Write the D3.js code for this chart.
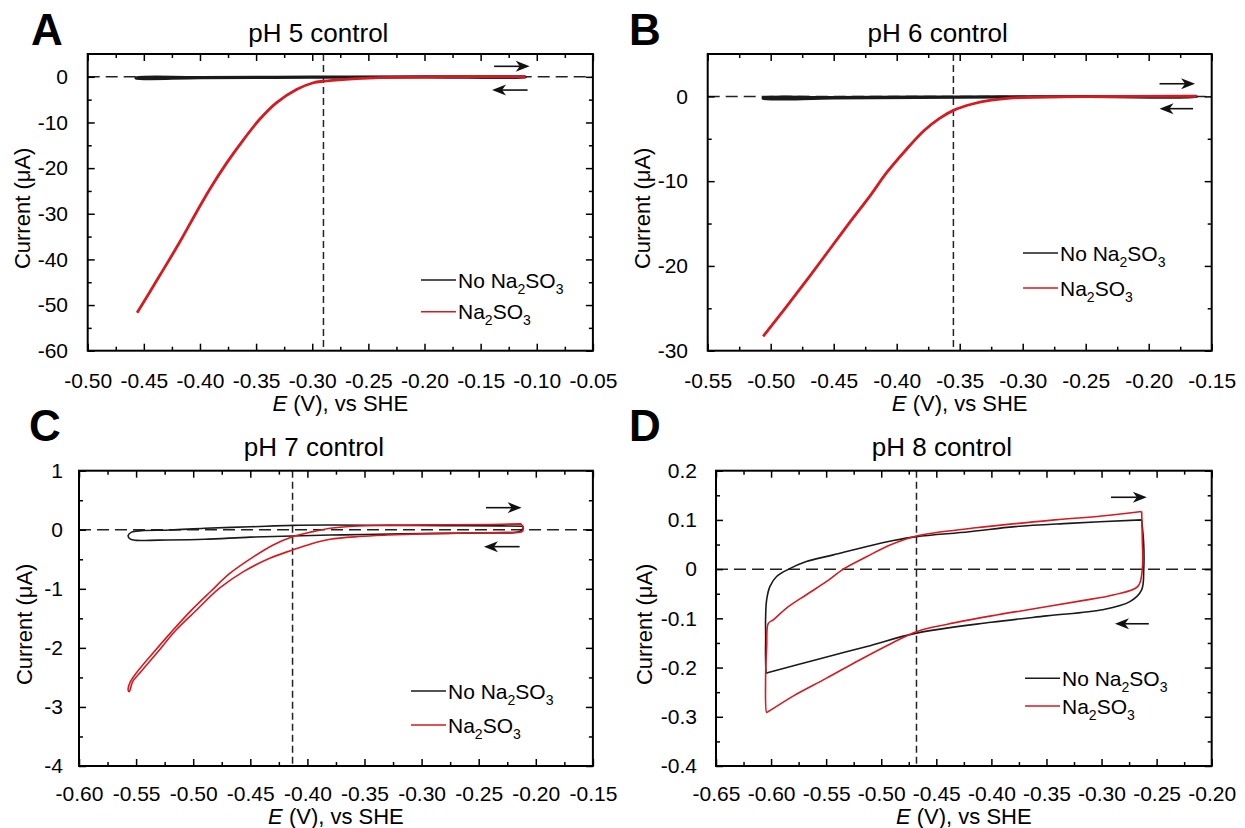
<!DOCTYPE html>
<html>
<head>
<meta charset="utf-8">
<script src="https://cdn.jsdelivr.net/npm/d3@7"></script>
<style>
  body { margin: 0; background: #fff; }
  text { font-family: "Liberation Sans", Arial, Helvetica, sans-serif; fill: #000; }
</style>
</head>
<body>
<svg id="fig" width="1245" height="828"></svg>
<script>
// traces: [E (V vs SHE), current (uA)]
var pH5Control = [[-0.11, 0.05], [-0.20, 0.02], [-0.30, -0.03], [-0.40, -0.12], [-0.457, -0.2],
                  [-0.457, -0.3], [-0.40, -0.25], [-0.30, -0.12], [-0.20, -0.05], [-0.11, -0.02], [-0.11, 0.05]];
var pH5Sulfite = [[-0.11, 0.0], [-0.15, -0.02], [-0.20, -0.05], [-0.23, -0.13], [-0.25, -0.28], [-0.27, -0.55],
                  [-0.29, -0.96], [-0.299, -1.3], [-0.314, -2.78], [-0.332, -5.7], [-0.347, -9.36], [-0.361, -13.7],
                  [-0.376, -18.8], [-0.391, -24.5], [-0.403, -29.6], [-0.418, -36.2], [-0.436, -43.6], [-0.456, -51.7]];

var pH6Control = [[-0.162, 0.03], [-0.25, 0.0], [-0.35, -0.05], [-0.45, -0.12], [-0.506, -0.17],
                  [-0.506, -0.25], [-0.45, -0.2], [-0.35, -0.1], [-0.25, -0.04], [-0.162, -0.02], [-0.162, 0.03]];
var pH6Sulfite = [[-0.162, 0.0], [-0.20, -0.01], [-0.26, -0.03], [-0.29, -0.08], [-0.31, -0.2], [-0.325, -0.45],
                  [-0.34, -0.9], [-0.355, -1.65], [-0.366, -2.6], [-0.378, -4.0], [-0.392, -6.2], [-0.408, -9.0],
                  [-0.421, -11.7], [-0.437, -14.8], [-0.453, -18.0], [-0.469, -21.2], [-0.487, -24.7], [-0.506, -28.3]];

var pH7Control = [[-0.211, 0.06], [-0.212, 0.0], [-0.216, -0.04], [-0.25, -0.055], [-0.30, -0.065], [-0.35, -0.08],
                  [-0.38, -0.09], [-0.413, -0.105], [-0.45, -0.125], [-0.49, -0.16], [-0.53, -0.175], [-0.55, -0.18],
                  [-0.555, -0.16], [-0.557, -0.1], [-0.554, -0.04], [-0.545, -0.015], [-0.52, -0.005], [-0.49, 0.025],
                  [-0.45, 0.05], [-0.413, 0.075], [-0.38, 0.08], [-0.33, 0.075], [-0.28, 0.07], [-0.23, 0.065], [-0.211, 0.06]];
var pH7Sulfite = [[-0.213, 0.1], [-0.211, 0.03], [-0.212, -0.03], [-0.225, -0.045], [-0.26, -0.055], [-0.30, -0.07],
                  [-0.33, -0.09], [-0.355, -0.115], [-0.38, -0.161], [-0.397, -0.24], [-0.413, -0.342], [-0.433, -0.483],
                  [-0.456, -0.709], [-0.477, -0.99], [-0.497, -1.358], [-0.515, -1.697], [-0.532, -2.09], [-0.547, -2.43],
                  [-0.553, -2.57], [-0.556, -2.74], [-0.557, -2.71], [-0.555, -2.57], [-0.550, -2.43], [-0.538, -2.15],
                  [-0.520, -1.75], [-0.503, -1.39], [-0.485, -1.05], [-0.468, -0.74], [-0.447, -0.455], [-0.430, -0.257],
                  [-0.413, -0.117], [-0.395, -0.032], [-0.380, 0.025], [-0.36, 0.06], [-0.33, 0.078], [-0.28, 0.085],
                  [-0.24, 0.09], [-0.213, 0.1]];

var pH8Control = [[-0.2636, 0.1], [-0.2617, 0.05], [-0.2617, -0.001], [-0.2636, -0.042], [-0.2743, -0.066],
                  [-0.2994, -0.0825], [-0.35, -0.095], [-0.40, -0.108], [-0.468, -0.13], [-0.513, -0.157],
                  [-0.559, -0.184], [-0.6025, -0.21], [-0.604, -0.211], [-0.605, -0.18], [-0.6049, -0.137],
                  [-0.605, -0.103], [-0.604, -0.062], [-0.601, -0.035], [-0.595, -0.015], [-0.584, 0.0],
                  [-0.568, 0.0154], [-0.5435, 0.029], [-0.513, 0.046], [-0.489, 0.058], [-0.468, 0.066],
                  [-0.42, 0.076], [-0.3786, 0.0864], [-0.33, 0.093], [-0.2636, 0.1]];
var pH8Sulfite = [[-0.2636, 0.117], [-0.263, 0.06], [-0.263, 0.0], [-0.267, -0.035], [-0.2887, -0.052],
                  [-0.32, -0.065], [-0.36, -0.08], [-0.40, -0.095], [-0.44, -0.112], [-0.468, -0.127],
                  [-0.49, -0.15], [-0.52, -0.185], [-0.55, -0.222], [-0.58, -0.258], [-0.603, -0.29],
                  [-0.604, -0.291], [-0.605, -0.2245], [-0.604, -0.157], [-0.6025, -0.11], [-0.598, -0.103],
                  [-0.586, -0.079], [-0.568, -0.052], [-0.5495, -0.025], [-0.5344, 0.0], [-0.513, 0.0256],
                  [-0.492, 0.049], [-0.468, 0.0675], [-0.414, 0.084], [-0.3424, 0.1], [-0.30, 0.108], [-0.2636, 0.117]];

// marker potentials (vertical dashed lines)
var markerE = [-0.29, -0.355, -0.413, -0.468];

// tick values
var xTicksA = [-0.50, -0.45, -0.40, -0.35, -0.30, -0.25, -0.20, -0.15, -0.10, -0.05];
var yTicksA = [0, -10, -20, -30, -40, -50, -60];
var xTicksB = [-0.55, -0.50, -0.45, -0.40, -0.35, -0.30, -0.25, -0.20, -0.15];
var yTicksB = [0, -10, -20, -30];
var xTicksC = [-0.60, -0.55, -0.50, -0.45, -0.40, -0.35, -0.30, -0.25, -0.20, -0.15];
var yTicksC = [1, 0, -1, -2, -3, -4];
var xTicksD = [-0.65, -0.60, -0.55, -0.50, -0.45, -0.40, -0.35, -0.30, -0.25, -0.20];
var yTicksD = [0.2, 0.1, 0, -0.1, -0.2, -0.3, -0.4];

var titles = ["pH 5 control", "pH 6 control", "pH 7 control", "pH 8 control"];
var letters = ["A", "B", "C", "D"];

var red = "#d71920";
var black = "#1a1a1a";
var svg = d3.select("#fig");

var panels = [
  {letter: letters[0], title: titles[0], black: pH5Control, red: pH5Sulfite, marker: markerE[0],
   left: 87.7, top: 54, width: 505.2, height: 296.7, xDomain: [-0.5, -0.05], yDomain: [-60, 5],
   xTicks: xTicksA, yTicks: yTicksA, xFmt: 2, yFmt: 0, lw: 2.8,
   xPad: 22, yPad: 19.7, letterX: 31, letterY: 45, titleY: 41.7, xTitleY: 411, yTitleX: 30,
   legX: 421, legY: [280, 311.7], arrows: [[-0.138, -0.1063, 2.3], [-0.1082, -0.1398, -2.9]]},
  {letter: letters[1], title: titles[1], black: pH6Control, red: pH6Sulfite, marker: markerE[1],
   left: 707.7, top: 54, width: 504, height: 296.7, xDomain: [-0.55, -0.15], yDomain: [-30, 5],
   xTicks: xTicksB, yTicks: yTicksB, xFmt: 2, yFmt: 0, lw: 2.8,
   xPad: 22, yPad: 19.7, letterX: 629, letterY: 45, titleY: 41.7, xTitleY: 411, yTitleX: 650,
   legX: 1023, legY: [253, 288], arrows: [[-0.1914, -0.1632, 1.49], [-0.1648, -0.1914, -1.45]]},
  {letter: letters[2], title: titles[2], black: pH7Control, red: pH7Sulfite, marker: markerE[2],
   left: 79, top: 470.7, width: 513.9, height: 295.3, xDomain: [-0.6, -0.15], yDomain: [-4, 1],
   xTicks: xTicksC, yTicks: yTicksC, xFmt: 2, yFmt: 0, lw: 1.6,
   xPad: 19.6, yPad: 16, letterX: 29, letterY: 441, titleY: 456, xTitleY: 824, yTitleX: 31.6,
   legX: 411, legY: [691, 725], arrows: [[-0.2436, -0.2124, 0.374], [-0.2142, -0.2454, -0.286]]},
  {letter: letters[3], title: titles[3], black: pH8Control, red: pH8Sulfite, marker: markerE[3],
   left: 716, top: 470.7, width: 495.7, height: 295.3, xDomain: [-0.65, -0.2], yDomain: [-0.4, 0.2],
   xTicks: xTicksD, yTicks: yTicksD, xFmt: 2, yFmt: 1, lw: 1.6,
   xPad: 19.6, yPad: 19, letterX: 629, letterY: 441, titleY: 456, xTitleY: 824, yTitleX: 651.6,
   legX: 1025, legY: [678.3, 706], arrows: [[-0.2914, -0.2589, 0.146], [-0.2571, -0.2878, -0.111]]}
];

function fmt(n) {
  return function(d) { return Math.abs(d) < 1e-9 ? "0" : d.toFixed(n); };
}

function mids(ticks) {
  return d3.pairs(ticks, function(a, b) { return (a + b) / 2; });
}

function styleAxis(g) {
  g.select(".domain").remove();
  g.attr("font-size", 21).attr("font-family", '"Liberation Sans", Arial, sans-serif');
  g.selectAll(".tick line").attr("stroke", "#000").attr("stroke-width", 1.5);
}

function drawPanel(p) {
  var x = d3.scaleLinear().domain(p.xDomain).range([p.left, p.left + p.width]);
  var y = d3.scaleLinear().domain(p.yDomain).range([p.top + p.height, p.top]);
  var g = svg.append("g");

  // reference lines
  g.append("line")
    .attr("x1", p.left).attr("x2", p.left + p.width)
    .attr("y1", y(0)).attr("y2", y(0))
    .attr("stroke", "#222").attr("stroke-width", 1.5).attr("stroke-dasharray", "12,6");
  g.append("line")
    .attr("x1", x(p.marker)).attr("x2", x(p.marker))
    .attr("y1", p.top).attr("y2", p.top + p.height)
    .attr("stroke", "#222").attr("stroke-width", 1.5).attr("stroke-dasharray", "7,4");

  var line = d3.line()
    .curve(d3.curveCatmullRom.alpha(0.5))
    .x(function(d) { return x(d[0]); })
    .y(function(d) { return y(d[1]); });

  g.append("path").datum(p.black).attr("d", line)
    .attr("fill", "none").attr("stroke", black).attr("stroke-width", p.lw).attr("stroke-linejoin", "round");
  g.append("path").datum(p.red).attr("d", line)
    .attr("fill", "none").attr("stroke", red).attr("stroke-width", p.lw).attr("stroke-linejoin", "round");

  // axes, ticks inside on all four sides
  var bottom = p.top + p.height, right = p.left + p.width;
  g.append("g").attr("transform", "translate(0," + bottom + ")")
    .call(d3.axisBottom(x).tickValues(p.xTicks).tickFormat(fmt(p.xFmt)).tickSizeInner(-7).tickSizeOuter(0).tickPadding(p.xPad))
    .call(styleAxis);
  g.append("g").attr("transform", "translate(0," + bottom + ")")
    .call(d3.axisBottom(x).tickValues(mids(p.xTicks)).tickFormat("").tickSizeInner(-4).tickSizeOuter(0))
    .call(styleAxis);
  g.append("g").attr("transform", "translate(0," + p.top + ")")
    .call(d3.axisTop(x).tickValues(p.xTicks).tickFormat("").tickSizeInner(-7).tickSizeOuter(0))
    .call(styleAxis);
  g.append("g").attr("transform", "translate(0," + p.top + ")")
    .call(d3.axisTop(x).tickValues(mids(p.xTicks)).tickFormat("").tickSizeInner(-4).tickSizeOuter(0))
    .call(styleAxis);

  g.append("g").attr("transform", "translate(" + p.left + ",0)")
    .call(d3.axisLeft(y).tickValues(p.yTicks).tickFormat(fmt(p.yFmt)).tickSizeInner(-7).tickSizeOuter(0).tickPadding(p.yPad))
    .call(styleAxis);
  g.append("g").attr("transform", "translate(" + p.left + ",0)")
    .call(d3.axisLeft(y).tickValues(mids(p.yTicks)).tickFormat("").tickSizeInner(-4).tickSizeOuter(0))
    .call(styleAxis);
  g.append("g").attr("transform", "translate(" + right + ",0)")
    .call(d3.axisRight(y).tickValues(p.yTicks).tickFormat("").tickSizeInner(-7).tickSizeOuter(0))
    .call(styleAxis);
  g.append("g").attr("transform", "translate(" + right + ",0)")
    .call(d3.axisRight(y).tickValues(mids(p.yTicks)).tickFormat("").tickSizeInner(-4).tickSizeOuter(0))
    .call(styleAxis);

  // frame
  g.append("rect").attr("x", p.left).attr("y", p.top).attr("width", p.width).attr("height", p.height)
    .attr("fill", "none").attr("stroke", "#000").attr("stroke-width", 2);

  // scan direction arrows
  p.arrows.forEach(function(a) {
    var x0 = x(a[0]), x1 = x(a[1]), yy = y(a[2]);
    var dir = x1 > x0 ? 1 : -1;
    g.append("line").attr("x1", x0).attr("x2", x1 - dir * 8).attr("y1", yy).attr("y2", yy)
      .attr("stroke", "#111").attr("stroke-width", 1.6);
    g.append("path")
      .attr("d", "M" + x1 + "," + yy + "L" + (x1 - dir * 14) + "," + (yy - 5.5) +
                 "L" + (x1 - dir * 10) + "," + yy + "L" + (x1 - dir * 14) + "," + (yy + 5.5) + "Z")
      .attr("fill", "#111");
  });

  // legend
  var legend = [{label: ["No Na", "2", "SO", "3"], color: black},
                {label: ["Na", "2", "SO", "3"], color: red}];
  legend.forEach(function(l, i) {
    var ly = p.legY[i];
    g.append("line").attr("x1", p.legX).attr("x2", p.legX + 35).attr("y1", ly).attr("y2", ly)
      .attr("stroke", l.color).attr("stroke-width", 1.6);
    var t = g.append("text").attr("x", p.legX + 37).attr("y", ly + 7.5).attr("font-size", 21);
    t.append("tspan").text(l.label[0]);
    t.append("tspan").attr("font-size", 14).attr("dy", 6).text(l.label[1]);
    t.append("tspan").attr("dy", -6).text(l.label[2]);
    t.append("tspan").attr("font-size", 14).attr("dy", 6).text(l.label[3]);
  });

  // titles and labels
  g.append("text").attr("x", p.left + p.width / 2 - 22).attr("y", p.titleY)
    .attr("text-anchor", "middle").attr("font-size", 26).text(p.title);
  g.append("text").attr("x", p.letterX).attr("y", p.letterY)
    .attr("font-size", 44).attr("font-weight", "bold").text(p.letter);

  var xt = g.append("text").attr("x", p.left + p.width / 2).attr("y", p.xTitleY)
    .attr("text-anchor", "middle").attr("font-size", 22);
  xt.append("tspan").attr("font-style", "italic").text("E");
  xt.append("tspan").text(" (V), vs SHE");

  g.append("text")
    .attr("transform", "translate(" + p.yTitleX + "," + (p.top + p.height / 2 + 6) + ") rotate(-90)")
    .attr("text-anchor", "middle").attr("font-size", 22).text("Current (\u03bcA)");
}

panels.forEach(drawPanel);
</script>
</body>
</html>
